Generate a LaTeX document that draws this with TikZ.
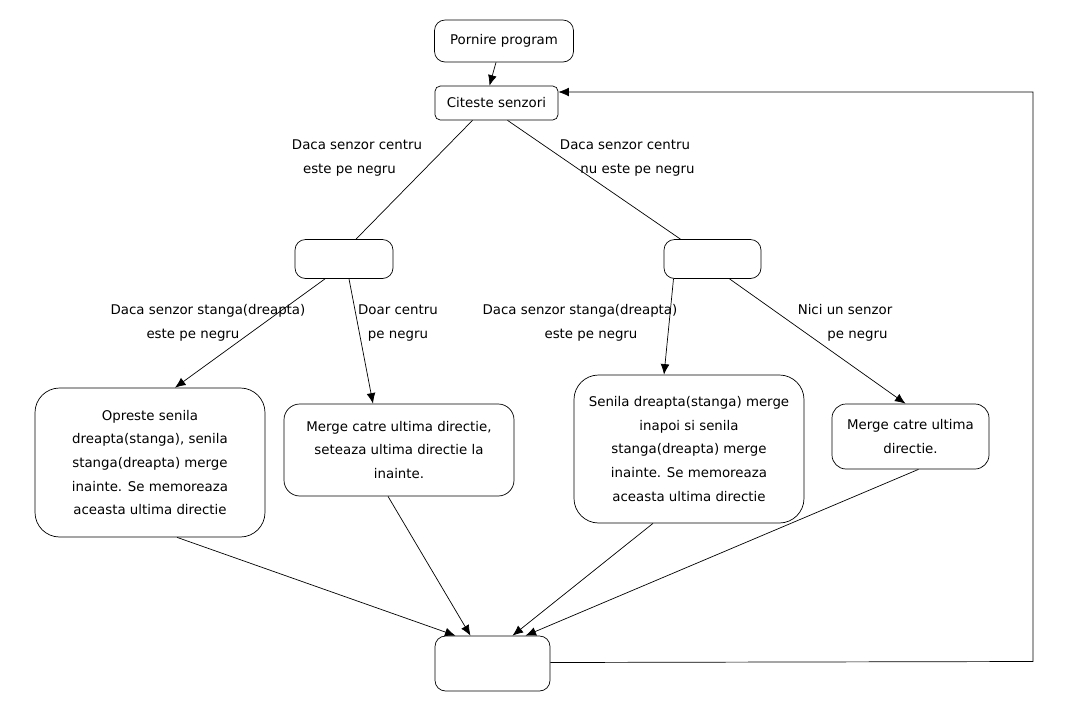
\documentclass[tikz,border=0pt]{standalone}
\usepackage{fontspec}
\setmainfont{DejaVu Sans}
\usetikzlibrary{calc,arrows.meta}
\begin{document}
\begin{tikzpicture}[font=\fontsize{7.6}{13.5}\selectfont,
  box/.style={draw,rounded corners=6pt,align=center,inner sep=0pt},
  lbl/.style={align=center},
  >={Latex[length=6pt,width=5pt]}]
  \useasboundingbox (0,0) rectangle (21.58,-14.22);
  \node[box,minimum width=2.78cm,minimum height=0.84cm] (start) at (10.08,-0.82) {Pornire program};
  \node[box,minimum width=2.46cm,minimum height=0.68cm,rounded corners=3pt] (read) at (9.93,-2.06) {Citeste senzori};
  \node[box,minimum width=1.96cm,minimum height=0.78cm] (left) at (6.88,-5.18) {};
  \node[box,minimum width=1.94cm,minimum height=0.78cm] (right) at (14.25,-5.18) {};
  \node[box,minimum width=4.6cm,minimum height=2.98cm,rounded corners=14pt] (b1) at (3.0,-9.25) {Opreste senila\\dreapta(stanga), senila\\stanga(dreapta) merge\\inainte. Se memoreaza\\aceasta ultima directie};
  \node[box,minimum width=4.6cm,minimum height=1.84cm,rounded corners=9pt] (b2) at (7.98,-9.0) {Merge catre ultima directie,\\seteaza ultima directie la\\inainte.};
  \node[box,minimum width=4.6cm,minimum height=2.96cm,rounded corners=14pt] (b3) at (13.78,-8.98) {Senila dreapta(stanga) merge\\inapoi si senila\\stanga(dreapta) merge\\inainte. Se memoreaza\\aceasta ultima directie};
  \node[box,minimum width=3.14cm,minimum height=1.3cm,rounded corners=8pt] (b4) at (18.21,-8.73) {Merge catre ultima\\directie.};
  \node[box,minimum width=2.3cm,minimum height=1.1cm] (stop) at (9.85,-13.27) {};
  % etichete
  \node[lbl] (l1) at (7.14,-3.16) {Daca senzor centru\\\hspace*{-0.3cm}este pe negru};
  \node[lbl] (l2) at (12.5,-3.16) {Daca senzor centru\\\hspace*{0.5cm}nu este pe negru};
  \node[lbl] (l3) at (4.16,-6.46) {Daca senzor stanga(dreapta)\\\hspace*{-0.6cm}este pe negru};
  \node[lbl] (l4) at (7.96,-6.46) {Doar centru\\pe negru};
  \node[lbl] (l5) at (11.6,-6.46) {Daca senzor stanga(dreapta)\\\hspace*{0.44cm}este pe negru};
  \node[lbl] (l6) at (16.9,-6.46) {Nici un senzor\\\hspace*{0.5cm}pe negru};
  % conexiuni
  \draw[->] ([xshift=-0.16cm]start.south) -- ([xshift=-0.14cm]read.north);
  \draw ([xshift=-0.48cm]read.south) -- ([xshift=0.24cm]left.north);
  \draw ([xshift=0.22cm]read.south) -- ([xshift=-0.64cm]right.north);
  \draw[->] ([xshift=-0.38cm]left.south) -- ([xshift=0.5cm]b1.north);
  \draw[->] ([xshift=0.1cm]left.south) -- ([xshift=-0.52cm]b2.north);
  \draw[->] ([xshift=-0.78cm]right.south) -- ([xshift=-0.5cm]b3.north);
  \draw[->] ([xshift=0.34cm]right.south) -- ([xshift=-0.1cm]b4.north);
  \draw[->] ([xshift=0.54cm]b1.south) -- ([xshift=-0.74cm]stop.north);
  \draw[->] ([xshift=-0.22cm]b2.south) -- ([xshift=-0.44cm]stop.north);
  \draw[->] ([xshift=-0.72cm]b3.south) -- ([xshift=0.4cm]stop.north);
  \draw[->] ([xshift=0.16cm]b4.south) -- ([xshift=0.66cm]stop.north);
  \draw[->] ([yshift=0.02cm]stop.east) -- (20.66,-13.23) -- (20.66,-1.84) -- ([yshift=0.22cm]read.east);
\end{tikzpicture}
\end{document}
